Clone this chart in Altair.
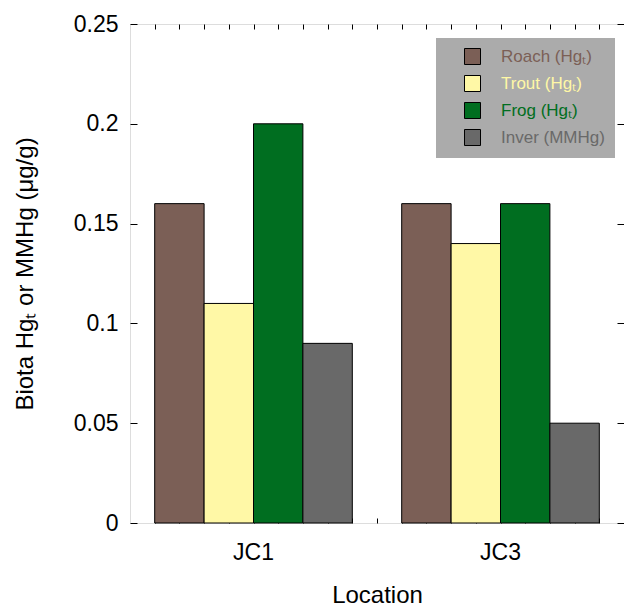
import altair as alt
import pandas as pd

locations = ["JC1", "JC3"]
series = ["Roach (Hgₜ)", "Trout (Hgₜ)", "Frog (Hgₜ)", "Inver (MMHg)"]
colors = ["#7b5f56", "#fff8a6", "#006e20", "#696969"]
values_jc1 = [0.16, 0.11, 0.20, 0.09]
values_jc3 = [0.16, 0.14, 0.16, 0.05]
y_ticks = [0, 0.05, 0.1, 0.15, 0.2, 0.25]
x_minor = list(range(1, 20))

rows = []
for loc, vals in zip(locations, [values_jc1, values_jc3]):
    for s, v in zip(series, vals):
        rows.append({"Location": loc, "Series": s, "Value": v})
df = pd.DataFrame(rows)
df_minor = pd.DataFrame({"t": x_minor})

W, H = 494, 499
FONT = "Liberation Sans"

xscale = alt.Scale(paddingInner=0.2, paddingOuter=0.1)
color = alt.Color(
    "Series:N",
    sort=series,
    scale=alt.Scale(domain=series, range=colors),
    legend=alt.Legend(
        orient="none", legendX=306, legendY=14, title=None,
        fillColor="#ababab", padding=10, symbolOffset=18, labelOffset=20,
        rowPadding=6, symbolType="square", symbolSize=256,
        symbolStrokeColor="black", symbolStrokeWidth=1,
        labelFontSize=17, labelFont=FONT, labelLimit=300,
        labelColor=alt.ExprRef("scale('color', datum.value)"),
    ),
)

base = alt.Chart(df)

bars = base.mark_bar(stroke="black", strokeWidth=1).encode(
    x=alt.X("Location:N", scale=xscale, sort=locations,
            axis=alt.Axis(title="Location", labelAngle=0, ticks=False, domain=False,
                          labelFontSize=23, titleFontSize=24, labelPadding=18,
                          titlePadding=19, titleFontWeight="normal",
                          labelColor="black", titleColor="black",
                          labelFont=FONT, titleFont=FONT)),
    xOffset=alt.XOffset("Series:N", sort=series, scale=alt.Scale(paddingInner=0, paddingOuter=0)),
    y=alt.Y("Value:Q", scale=alt.Scale(domain=[0, 0.25], nice=False),
            axis=alt.Axis(title="Biota Hgₜ or MMHg (μg/g)", values=y_ticks, format="~g",
                          ticks=False, domain=False, labelFontSize=23, titleFontSize=24,
                          labelPadding=12, titlePadding=36, titleFontWeight="normal",
                          labelColor="black", titleColor="black",
                          labelFont=FONT, titleFont=FONT, grid=False)),
    color=color,
)

# inward y ticks on the left edge (right-oriented axis moved to the left edge)
yticks_left = base.mark_point(opacity=0).encode(
    y=alt.Y("Value:Q", axis=alt.Axis(orient="right", offset=-W, labels=False, domain=False,
                                       tickSize=7, tickColor="black", title=None,
                                       values=y_ticks, grid=False)),
)
# inward y ticks on the right edge
yticks_right = base.mark_point(opacity=0).encode(
    y=alt.Y("Value:Q", axis=alt.Axis(orient="left", offset=-W, labels=False, domain=False,
                                       tickSize=7, tickColor="black", title=None,
                                       values=y_ticks, grid=False)),
)
# inward minor x ticks at bottom and top
mbase = alt.Chart(df_minor).mark_point(opacity=0)
xticks_bottom = mbase.encode(
    x=alt.X("t:Q", scale=alt.Scale(domain=[0, 20], nice=False),
            axis=alt.Axis(orient="top", offset=-H, labels=False, domain=False,
                          tickSize=5, tickColor="black", title=None,
                          values=x_minor, grid=False)),
)
xticks_top = mbase.encode(
    x=alt.X("t:Q", scale=alt.Scale(domain=[0, 20], nice=False),
            axis=alt.Axis(orient="bottom", offset=-H, labels=False, domain=False,
                          tickSize=5, tickColor="black", title=None,
                          values=x_minor, grid=False)),
)

chart = alt.layer(bars, yticks_left, yticks_right, xticks_bottom, xticks_top).resolve_axis(
    y="independent", x="independent"
).resolve_scale(x="independent").properties(
    width=W, height=H,
    autosize=alt.AutoSizeParams(type="none"),
    padding={"left": 122, "top": 16, "right": 0, "bottom": 80},
).configure_view(stroke="black", strokeWidth=1).configure(background="white")

chart.save("out.html", embed_options={"renderer": "svg", "actions": False})
